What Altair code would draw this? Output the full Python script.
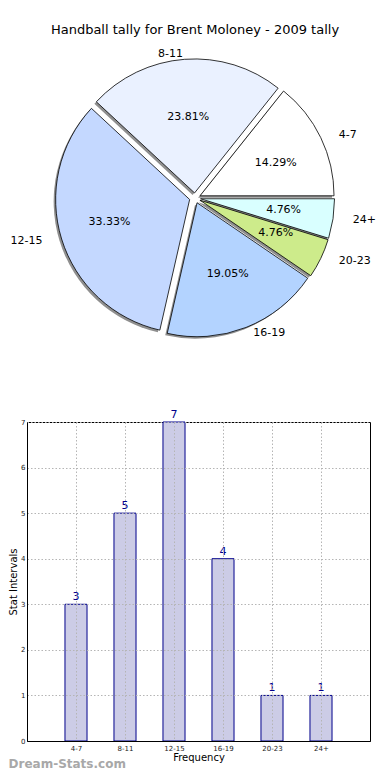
import math
import altair as alt
import pandas as pd

# ---------------- data ----------------
categories = ["4-7", "8-11", "12-15", "16-19", "20-23", "24+"]
counts = [3, 5, 7, 4, 1, 1]
slice_colors = ["#FFFFFF", "#EAF1FF", "#C4D8FF", "#B3D3FF", "#CDEB8B", "#D9FFFF"]
explode = [0.04, 0.04, 0.04, 0.04, 0.04, 0.04]
title_text = "Handball tally for Brent Moloney - 2009 tally"
watermark = "Dream-Stats.com"

FONT = "DejaVu Sans"
order = list(range(1, len(categories) + 1))

df = pd.DataFrame({"cat": categories, "count": counts, "order": order, "explode": explode})

# ---------------- pie ----------------
PW, PH = 343, 392
CX, CY = 168, 190
RX, RY = 140, 127
R = 134

xs = alt.Scale(domain=[-CX / RX, (PW - CX) / RX])
ys = alt.Scale(domain=[-(PH - CY) / RY, CY / RY])

base = (
    alt.Chart(df)
    .transform_joinaggregate(total="sum(count)")
    .transform_window(cum="sum(count)", sort=[alt.SortField("order")], frame=[None, 0])
    .transform_calculate(
        f0="(datum.cum - datum.count) / datum.total",
        f1="datum.cum / datum.total",
    )
    .transform_calculate(mid="PI * (datum.f0 + datum.f1)")
    .transform_calculate(
        dx="datum.explode * cos(datum.mid)",
        dy="datum.explode * sin(datum.mid)",
    )
    .transform_calculate(
        lx="datum.dx + 1.1 * cos(datum.mid)",
        ly="datum.dy + 1.1 * sin(datum.mid)",
        px="datum.dx + 0.6 * cos(datum.mid)",
        py="datum.dy + 0.6 * sin(datum.mid)",
        pct="format(datum.count / datum.total * 100, '.2f') + '%'",
    )
)

theta_scale = alt.Scale(domain=[0, 1], range=[2.5 * math.pi, 0.5 * math.pi])

shadow = base.mark_arc(radius=R, color="#8f8f8f", xOffset=-2, yOffset=2).encode(
    x=alt.X("dx:Q", scale=xs, axis=None),
    y=alt.Y("dy:Q", scale=ys, axis=None),
    theta=alt.Theta("f0:Q", scale=theta_scale, stack=None),
    theta2="f1:Q",
)

arcs = base.mark_arc(radius=R, stroke="black", strokeWidth=0.8).encode(
    x=alt.X("dx:Q", scale=xs, axis=None),
    y=alt.Y("dy:Q", scale=ys, axis=None),
    theta=alt.Theta("f0:Q", scale=theta_scale, stack=None),
    theta2="f1:Q",
    color=alt.Color("cat:N", scale=alt.Scale(domain=categories, range=slice_colors), legend=None),
)

pct_text = base.mark_text(font=FONT, fontSize=11, color="black").encode(
    x=alt.X("px:Q", scale=xs, axis=None),
    y=alt.Y("py:Q", scale=ys, axis=None),
    text="pct:N",
)

lab_right = base.transform_filter("datum.lx > 0").mark_text(
    font=FONT, fontSize=11, color="black", align="left"
).encode(
    x=alt.X("lx:Q", scale=xs, axis=None),
    y=alt.Y("ly:Q", scale=ys, axis=None),
    text="cat:N",
)
lab_left = base.transform_filter("datum.lx <= 0").mark_text(
    font=FONT, fontSize=11, color="black", align="right"
).encode(
    x=alt.X("lx:Q", scale=xs, axis=None),
    y=alt.Y("ly:Q", scale=ys, axis=None),
    text="cat:N",
)

title_mark = alt.Chart(pd.DataFrame({"t": [title_text]})).mark_text(
    font=FONT, fontSize=13, color="black"
).encode(text="t:N", x=alt.value(CX), y=alt.value(22))

pie = alt.layer(shadow, arcs, pct_text, lab_right, lab_left, title_mark).properties(
    width=PW,
    height=PH,
    view=alt.ViewBackground(strokeWidth=0, stroke="transparent"),
)

# ---------------- bar ----------------
label_js = "[" + ",".join('"%s"' % c for c in categories) + "][datum.value - 1]"

bbase = alt.Chart(df).transform_calculate(
    x0="datum.order - 0.225", x1="datum.order + 0.225"
)

xscale = alt.Scale(domain=[0, len(categories) + 1], nice=False, zero=False)
yscale = alt.Scale(domain=[0, 7], nice=False)

bars = bbase.mark_bar(fill="#CCCCE6", stroke="#00008B", strokeWidth=1).encode(
    x=alt.X(
        "x0:Q",
        scale=xscale,
        axis=alt.Axis(
            values=order, labelExpr=label_js, title="Frequency", grid=True,
            gridDash=[1.5, 2], gridColor="#b5b5b5", ticks=False, labelFontSize=7,
            labelColor="#222", titleFontSize=10, titleFontWeight="normal",
            titleColor="black", domainColor="black", labelPadding=3, titlePadding=1,
            zindex=1, labelFont=FONT, titleFont=FONT,
        ),
    ),
    x2="x1:Q",
    y=alt.Y(
        "count:Q",
        scale=yscale,
        axis=alt.Axis(
            values=list(range(8)), title="Stat Intervals", grid=True,
            gridDash=[1.5, 2], gridColor="#b5b5b5", ticks=False, labelFontSize=7,
            labelColor="#222", titleFontSize=10, titleFontWeight="normal",
            titleColor="black", domainColor="black", labelPadding=2, titlePadding=2,
            zindex=1, labelFont=FONT, titleFont=FONT,
        ),
    ),
    y2=alt.datum(0),
)

vals = bbase.mark_text(
    font=FONT, fontSize=11, color="#00008B", baseline="bottom", dy=-2
).encode(
    x=alt.X("order:Q", scale=xscale),
    y=alt.Y("count:Q", scale=yscale),
    text="count:Q",
)

bar = alt.layer(bars, vals).properties(
    width=343,
    height=319,
    view=alt.ViewBackground(stroke="black", strokeWidth=1),
    title=alt.TitleParams(
        watermark, orient="bottom", anchor="start", frame="bounds", font=FONT,
        fontSize=12, fontWeight="bold", color="#a8a8a8", offset=-3,
    ),
)

chart = (
    alt.vconcat(pie, bar, spacing=8)
    .properties(padding=0)
    .configure(font=FONT)
)

chart.save("out.html", embed_options={"renderer": "svg", "actions": False})
